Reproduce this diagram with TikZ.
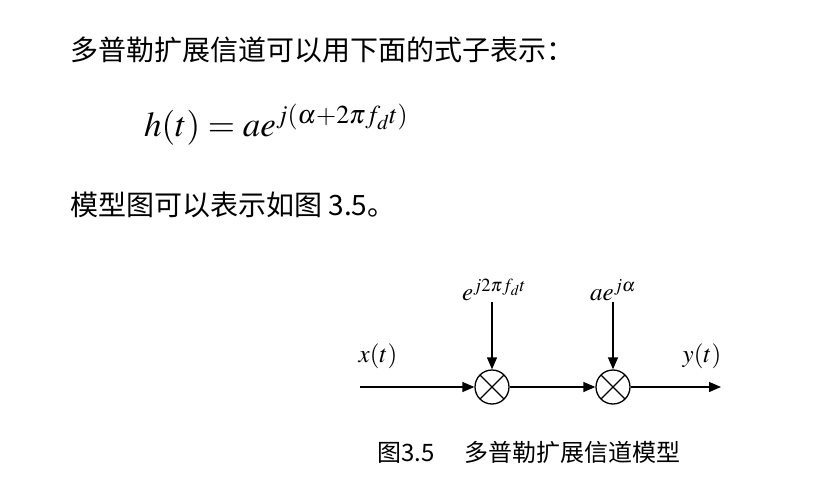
\documentclass[tikz,border=0pt]{standalone}
\usepackage{amsmath}
\usepackage{mathptmx}
\usepackage{fontspec}
\setmainfont{Liberation Serif}
\newfontfamily\cjk{Noto Sans CJK SC}
\usetikzlibrary{calc, positioning, arrows.meta}

\begin{document}
\begin{tikzpicture}[x=1pt, y=-1pt,
    txt/.style={anchor=west, inner sep=0pt, font=\cjk\fontsize{28}{32}\selectfont},
    lbl/.style={inner sep=1pt, font=\fontsize{25}{28}\selectfont},
    mult/.style={draw, circle, line width=1.3pt, minimum size=34pt, inner sep=0pt,
                 path picture={\draw[line width=1.3pt]
                   (path picture bounding box.south west) -- (path picture bounding box.north east)
                   (path picture bounding box.north west) -- (path picture bounding box.south east);}},
    arr/.style={-{Triangle[length=12pt, width=10pt]}, line width=1.3pt}
  ]
    \useasboundingbox (0, 0) rectangle (833, 503);

    % text above the figure
    \node[txt] (intro) at (70, 50) {多普勒扩展信道可以用下面的式子表示：};
    \node[anchor=west, inner sep=0pt, font=\fontsize{35}{40}\selectfont] (formula) at (144, 125)
      {$h(t) = a e^{j(\alpha + 2\pi f_d t)}$};
    \node[txt] (ref) at (70, 205) {模型图可以表示如图 3.5。};

    % model
    \node[mult] (mix1) at (492, 387) {};
    \node[mult] (mix2) at (613, 387) {};
    \coordinate (xin) at (360, 387);
    \coordinate (yout) at (721, 387);

    \node[lbl, anchor=south] (dop) at (494, 302) {$e^{j2\pi f_d t}$};
    \node[lbl, anchor=south] (gain) at (613, 302) {$a e^{j\alpha}$};
    \node[lbl] (xlbl) at (378, 356) {$x(t)$};
    \node[lbl] (ylbl) at (702, 356) {$y(t)$};

    \draw[arr] (xin) -- (mix1);
    \draw[arr] (mix1) -- (mix2);
    \draw[arr] (mix2) -- (yout);
    \draw[arr] (mix1 |- dop.south) -- (mix1);
    \draw[arr] (mix2 |- gain.south) -- (mix2);

    \node[anchor=west, inner sep=0pt, font=\cjk\fontsize{24}{28}\selectfont] (cap) at (377, 452)
      {图3.5\hspace{30pt}多普勒扩展信道模型};
  \end{tikzpicture}
\end{document}
